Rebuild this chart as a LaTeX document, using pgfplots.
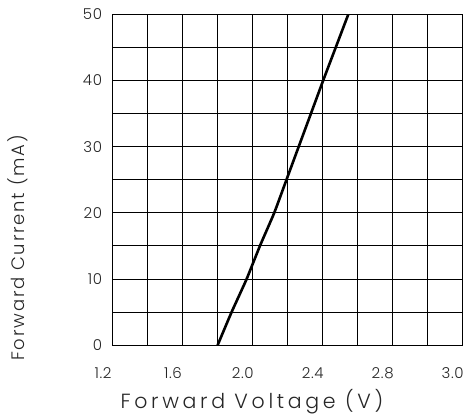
\documentclass[border=0pt]{standalone}
\usepackage{fontspec}
\setmainfont{Poppins}[UprightFont={* Light}]
\usepackage{pgfplots}
\pgfplotsset{compat=1.18}

\begin{document}
\begin{tikzpicture}
\begin{axis}[
    scale only axis,
    width=349.6bp, height=331bp,
    xmin=1.2, xmax=3.2,
    ymin=0, ymax=50,
    xtick={1.2,1.4,...,3.21},
    xticklabels={1.2,,1.6,,2.0,,2.4,,2.8,,3.0},
    ytick={0,5,...,50},
    yticklabels={0,,10,,20,,30,,40,,50},
    major tick length=0pt,
    grid=major,
    grid style={black, line width=1bp},
    axis line style={black, line width=1bp},
    /pgf/number format/assume math mode=true,
    tick label style={font=\addfontfeatures{LetterSpace=4}\fontsize{15bp}{17bp}\selectfont, text=black!85},
    xticklabel style={anchor=base, inner sep=0pt, xshift=-9.7bp, yshift=-33bp},
    yticklabel style={anchor=east, inner sep=0pt, xshift=-10.5bp},
    xlabel={Forward Voltage (V)},
    ylabel={Forward Current (mA)},
    xlabel style={font=\addfontfeatures{LetterSpace=18}\fontsize{20.5bp}{23bp}\selectfont, text=black!85,
        at={(axis description cs:0.398,-0.190)}, anchor=base},
    ylabel style={font=\addfontfeatures{LetterSpace=10}\fontsize{18bp}{21bp}\selectfont, text=black!85,
        at={(axis description cs:-0.251,0.294)}, anchor=base, rotate=0},
]
\addplot[black, line width=2.6bp, smooth, tension=0.3] coordinates {
    (1.800,0) (1.880,5) (1.966,10) (2.042,15) (2.124,20) (2.194,25)
    (2.264,30) (2.334,35) (2.404,40) (2.476,45) (2.548,50)
};
\end{axis}
\path (current axis.south west) ++(-112.7bp,-71.7bp) rectangle ++(468bp,417bp);
\end{tikzpicture}
\end{document}
